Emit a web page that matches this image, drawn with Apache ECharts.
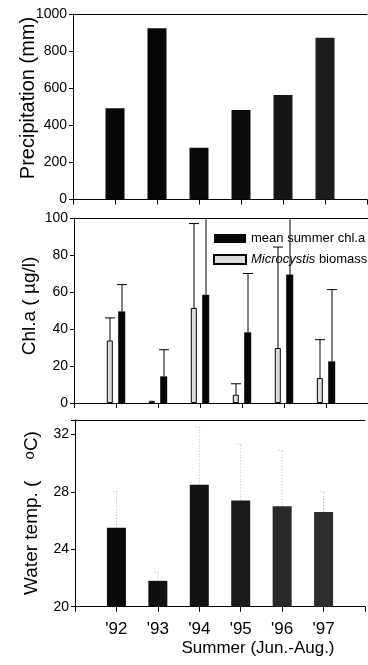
<!DOCTYPE html>
<html>
<head>
<meta charset="utf-8">
<script src="https://cdn.jsdelivr.net/npm/echarts@6/dist/echarts.min.js"></script>
<style>
  html, body { margin: 0; padding: 0; background: #fff; }
  #chart { width: 368px; height: 665px; }
</style>
</head>
<body>
<div id="chart"></div>
<script>
// ---- data ----
const years = ["'92", "'93", "'94", "'95", "'96", "'97"];
const categories = [''].concat(years, ['']);

const precipitation = [492, 923, 279, 482, 563, 872];          // mm

const chlMean      = [49.5, 14.4, 58.5, 38.2, 69.4, 22.5];     // µg/l
const chlUpper     = [64, 28.8, 118, 70, 112, 61.3];           // top of error bar
const microBiomass = [33.8, 1.2, 51.4, 4.5, 29.7, 13.5];
const microUpper   = [46, null, 97, 10.4, 84.3, 34.2];

const waterTemp      = [25.5, 21.8, 28.5, 27.4, 27.0, 26.6];   // °C
const waterTempUpper = [28.0, 22.4, 32.5, 31.3, 30.9, 28.0];

const precipTicks = { min: 0, max: 1000, interval: 200 };
const chlTicks    = { min: 0, max: 100, interval: 20 };
const tempTicks   = { min: 20, max: 33, interval: 4 };

// ---- helpers ----
const FONT = '"Liberation Sans", Arial, sans-serif';
const pad = arr => ['-'].concat(arr, ['-']);
const errData = (vals, ups) => vals.map((v, i) => [i + 1, v, ups[i]]).filter(d => d[2] != null);
const topBarColors = ['#050505', '#050505', '#0a0a0a', '#0c0c0c', '#151515', '#1c1c1c'];
const botBarColors = ['#0a0a0a', '#101010', '#131313', '#1a1a1a', '#282828', '#2e2e2e'];

function errRender(offsetPx, capW, style) {
  return function (params, api) {
    const x = api.value(0), lo = api.value(1), hi = api.value(2);
    const p1 = api.coord([x, lo]);
    const p2 = api.coord([x, hi]);
    const top = params.coordSys.y;
    const cx = p1[0] + offsetPx;
    const y2 = Math.max(p2[1], top);
    const children = [{ type: 'line', shape: { x1: cx, y1: p1[1], x2: cx, y2: y2 }, style: style }];
    if (p2[1] >= top) {
      children.push({ type: 'line', shape: { x1: cx - capW / 2, y1: y2, x2: cx + capW / 2, y2: y2 }, style: style });
    }
    return { type: 'group', children: children };
  };
}

function xAxisBase(gridIndex, showLabels) {
  return {
    type: 'category', gridIndex: gridIndex, data: categories, boundaryGap: false,
    axisLine: { lineStyle: { color: '#000', width: 1 } },
    axisTick: { show: true, inside: false, length: 5, lineStyle: { color: '#000' } },
    axisLabel: { show: showLabels, interval: 0, fontFamily: FONT, fontSize: 17, color: '#000', margin: 14 },
    splitLine: { show: false }
  };
}
function xAxisTop(gridIndex) {
  return {
    type: 'category', gridIndex: gridIndex, data: categories, boundaryGap: false, position: 'top',
    axisLine: { lineStyle: { color: '#000', width: 1 } },
    axisTick: { show: false }, axisLabel: { show: false }, splitLine: { show: false }
  };
}
function yAxisBase(gridIndex, t, fmt) {
  return {
    type: 'value', gridIndex: gridIndex, min: t.min, max: t.max, interval: t.interval,
    axisLine: { show: true, lineStyle: { color: '#000', width: 1 } },
    axisTick: { show: true, length: 4, lineStyle: { color: '#000' } },
    axisLabel: { fontFamily: FONT, fontSize: 14, color: '#000', margin: 6, formatter: fmt || (v => String(v)) },
    splitLine: { show: false }
  };
}

const chart = echarts.init(document.getElementById('chart'), null, { renderer: 'canvas' });

chart.setOption({
  animation: false,
  backgroundColor: '#fff',
  grid: [
    { left: 73, top: 14, width: 294, height: 185.5 },
    { left: 74, top: 218, width: 294, height: 185 },
    { left: 75, top: 420, width: 294, height: 186.7 }
  ],
  xAxis: [
    xAxisBase(0, false), xAxisBase(1, false), xAxisBase(2, true),
    xAxisTop(0), xAxisTop(1), xAxisTop(2)
  ],
  yAxis: [
    yAxisBase(0, precipTicks),
    yAxisBase(1, chlTicks),
    yAxisBase(2, tempTicks, v => (v % 4 === 0 ? String(v) : ''))
  ],
  legend: {
    data: ['mean summer chl.a', 'Microcystis biomass'],
    orient: 'vertical', left: 213, top: 232,
    itemWidth: 32, itemHeight: 9, itemGap: 8, padding: 0,
    icon: 'rect',
    textStyle: {
      fontFamily: FONT, fontSize: 13, color: '#000', lineHeight: 13,
      rich: { i: { fontFamily: FONT, fontSize: 13, fontStyle: 'italic', color: '#000' } }
    },
    formatter: name => (name === 'Microcystis biomass' ? '{i|Microcystis} biomass' : name)
  },
  graphic: [
    { type: 'text', x: 28, y: 98, rotation: Math.PI / 2,
      style: { text: 'Precipitation (mm)', font: '20px ' + FONT, fill: '#000', align: 'center', verticalAlign: 'middle' } },
    { type: 'text', x: 30, y: 306, rotation: Math.PI / 2,
      style: { text: 'Chl.a ( µg/l)', font: '19px ' + FONT, fill: '#000', align: 'center', verticalAlign: 'middle' } },
    { type: 'text', x: 32, y: 513, rotation: Math.PI / 2,
      style: { text: 'Water temp. (    {s|o}C)', font: '19px ' + FONT, fill: '#000', align: 'center', verticalAlign: 'middle',
        rich: { s: { font: '15px ' + FONT, fill: '#000', verticalAlign: 'top' } } } },
    { type: 'text', x: 258, y: 648,
      style: { text: 'Summer (Jun.-Aug.)', font: '17px ' + FONT, fill: '#000', align: 'center', verticalAlign: 'middle' } }
  ],
  series: [
    {
      name: 'Precipitation', type: 'bar', xAxisIndex: 0, yAxisIndex: 0, barWidth: 19,
      data: pad(precipitation.map((v, i) => ({ value: v, itemStyle: { color: topBarColors[i] } })))
    },
    {
      name: 'Microcystis biomass', type: 'bar', xAxisIndex: 1, yAxisIndex: 1, barWidth: 6, barGap: '90%',
      itemStyle: { color: '#dcdcdc', borderColor: '#000', borderWidth: 1 },
      data: pad(microBiomass)
    },
    {
      name: 'mean summer chl.a', type: 'bar', xAxisIndex: 1, yAxisIndex: 1, barWidth: 7, barGap: '90%',
      itemStyle: { color: '#050505' },
      data: pad(chlMean)
    },
    {
      name: 'micro err', type: 'custom', xAxisIndex: 1, yAxisIndex: 1, z: 1,
      renderItem: errRender(-6, 10, { stroke: '#000', lineWidth: 1 }),
      encode: { x: 0, y: [1, 2] },
      data: errData(microBiomass, microUpper)
    },
    {
      name: 'chl err', type: 'custom', xAxisIndex: 1, yAxisIndex: 1, z: 1,
      renderItem: errRender(6, 10, { stroke: '#000', lineWidth: 1 }),
      encode: { x: 0, y: [1, 2] },
      data: errData(chlMean, chlUpper)
    },
    {
      name: 'Water temp', type: 'bar', xAxisIndex: 2, yAxisIndex: 2, barWidth: 19,
      data: pad(waterTemp.map((v, i) => ({ value: v, itemStyle: { color: botBarColors[i] } })))
    },
    {
      name: 'temp err', type: 'custom', xAxisIndex: 2, yAxisIndex: 2, z: 1,
      renderItem: errRender(0, 6, { stroke: '#b4b4b4', lineWidth: 1, lineDash: [1, 2] }),
      encode: { x: 0, y: [1, 2] },
      data: errData(waterTemp, waterTempUpper)
    }
  ]
});
</script>
</body>
</html>
